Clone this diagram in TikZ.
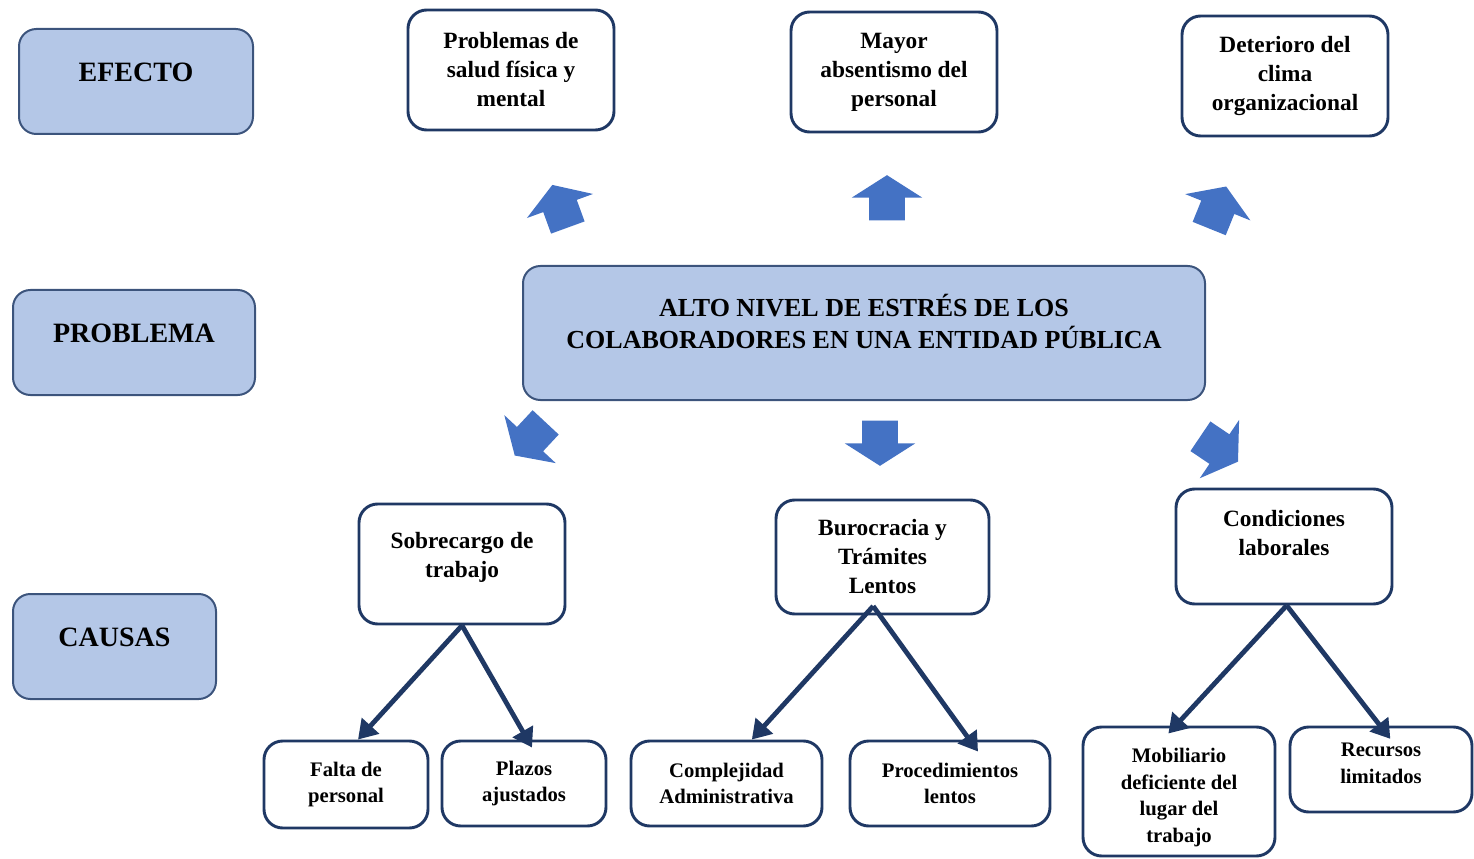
\documentclass[tikz,border=0pt]{standalone}
\usepackage{fontspec}
\setmainfont{Liberation Serif}
\usetikzlibrary{shapes.arrows,arrows.meta}

\definecolor{celeste}{RGB}{180,199,231}
\definecolor{bordeceleste}{RGB}{60,84,124}
\definecolor{marino}{RGB}{31,56,100}
\definecolor{flechaazul}{RGB}{68,114,196}

\tikzset{every picture/.style={line width=0.75pt}}
\tikzset{
  etiqueta/.style={draw=bordeceleste,fill=celeste,line width=1.5pt,rounded corners=13pt,
    align=center,inner sep=0pt,text depth=13.5pt,font=\bfseries\fontsize{21}{24}\selectfont},
  caja/.style={draw=marino,fill=white,line width=2.2pt,rounded corners=14pt,
    align=center,inner sep=0pt,font=\bfseries\fontsize{17.5}{21.75}\selectfont},
  cajita/.style={caja,font=\bfseries\fontsize{15.5}{20}\selectfont},
  bloque/.style={single arrow,fill=flechaazul,draw=none,inner xsep=0pt,inner ysep=13pt,
    minimum height=34pt,single arrow head extend=13pt,
    single arrow tip angle=115,anchor=tail},
  rama/.style={draw=marino,line width=3.6pt,-{Triangle[length=14pt,width=17pt]}}
}

\begin{document}
\begin{tikzpicture}[x=0.75pt,y=0.75pt,yscale=-1,xscale=1]
\useasboundingbox (0,0) rectangle (1474,859);

% columna izquierda
\node [etiqueta,minimum width=175.5pt,minimum height=78.75pt] (efecto) at (136,81.5) {EFECTO};
\node [etiqueta,minimum width=181.5pt,minimum height=78.75pt] (problema) at (134,342.5) {PROBLEMA};
\node [etiqueta,minimum width=152.25pt,minimum height=78.75pt] (causas) at (114.5,646.5) {CAUSAS};

% efectos
\node [caja,minimum width=154.5pt,minimum height=90pt] (salud) at (511,70) {Problemas de\\salud física y\\mental};
\node [caja,minimum width=154.5pt,minimum height=90pt] (absentismo) at (894,72) {Mayor\\absentismo del\\personal};
\node [caja,minimum width=154.5pt,minimum height=90pt] (clima) at (1285,76) {Deterioro del\\clima\\organizacional};

% problema central
\node [etiqueta,minimum width=511.5pt,minimum height=100.5pt,text depth=17pt,
  font=\bfseries\fontsize{19.5}{24}\selectfont] (estres) at (864,333)
  {ALTO NIVEL DE ESTRÉS DE LOS\\COLABORADORES EN UNA ENTIDAD PÚBLICA};

% flechas de bloque
\node [bloque,rotate=110] (fsalud) at (568,228) {};
\node [bloque,rotate=90] (fabsentismo) at (887,221) {};
\node [bloque,rotate=68] (fclima) at (1209,229) {};
\node [bloque,rotate=227] (fsobrecargo) at (546,422) {};
\node [bloque,rotate=270] (fburocracia) at (880,420) {};
\node [bloque,rotate=-34] (fcondiciones) at (1200,436) {};

% causas
\node [caja,minimum width=154.5pt,minimum height=90pt,text depth=13pt] (sobrecargo) at (462,564) {Sobrecargo de\\trabajo};
\node [caja,minimum width=159.75pt,minimum height=85.5pt] (burocracia) at (882.5,557) {Burocracia y\\Trámites\\Lentos};
\node [caja,minimum width=162pt,minimum height=86.25pt,text depth=21pt] (condiciones) at (1284,546.5) {Condiciones\\laborales};

% subcausas
\node [cajita,minimum width=123pt,minimum height=65.25pt] (falta) at (346,784.5) {Falta de\\personal};
\node [cajita,minimum width=123pt,minimum height=63.75pt] (plazos) at (524,783.5) {Plazos\\ajustados};
\node [cajita,minimum width=143.25pt,minimum height=63.75pt] (complejidad) at (726.5,783.5) {Complejidad\\Administrativa};
\node [cajita,minimum width=150pt,minimum height=63.75pt] (procedimientos) at (950,783.5) {Procedimientos\\lentos};
\node [cajita,minimum width=144pt,minimum height=96.75pt,text height=80pt] (mobiliario) at (1179,791.5) {Mobiliario\\deficiente del\\lugar del\\trabajo};
\node [cajita,minimum width=136.5pt,minimum height=63.75pt,text depth=9pt] (recursos) at (1381,769.5) {Recursos\\limitados};

% ramas
\draw [rama] (sobrecargo.south) -- ([xshift=9pt]falta.north);
\draw [rama] (sobrecargo.south) -- ([xshift=6pt,yshift=6pt]plazos.north);
\draw [rama] ([xshift=-7pt,yshift=-7pt]burocracia.south) -- ([xshift=19pt]complejidad.north);
\draw [rama] ([xshift=-7pt,yshift=-7pt]burocracia.south) -- ([xshift=21pt,yshift=9pt]procedimientos.north);
\draw [rama] ([xshift=2pt]condiciones.south) -- ([xshift=-8pt,yshift=6pt]mobiliario.north);
\draw [rama] ([xshift=2pt]condiciones.south) -- ([xshift=7pt,yshift=10pt]recursos.north);

\end{tikzpicture}
\end{document}
